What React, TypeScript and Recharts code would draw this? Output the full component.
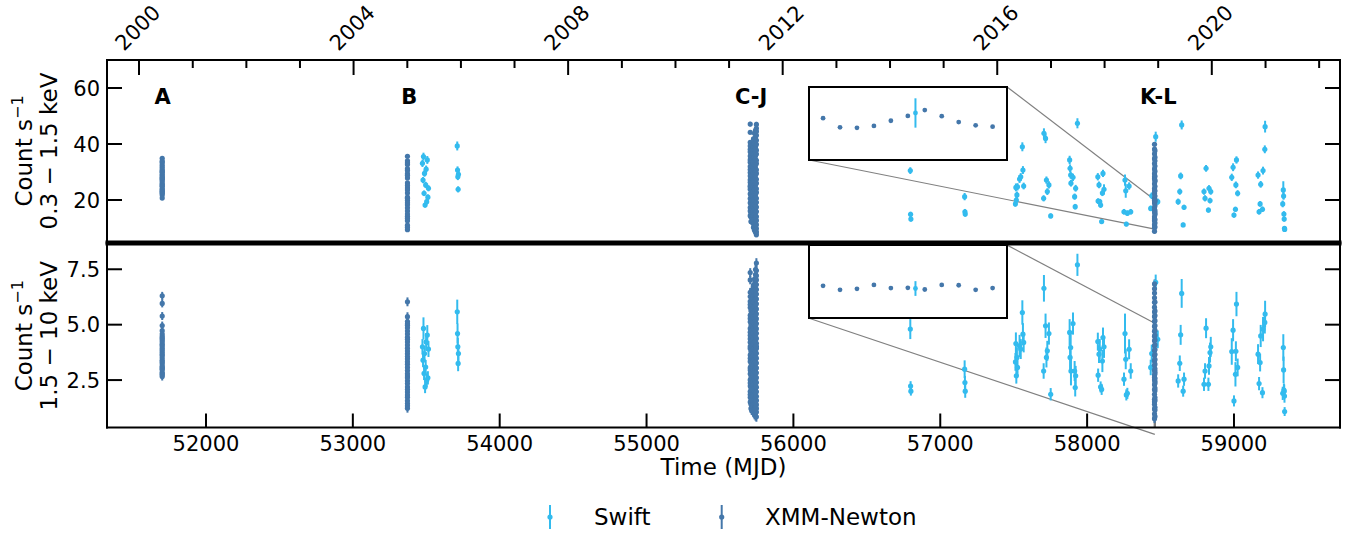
import React from 'react';
import {
  ScatterChart,
  Scatter,
  XAxis,
  YAxis,
  ErrorBar,
  ReferenceLine,
  ReferenceArea,
} from 'recharts';

const FONT = '"DejaVu Sans", Verdana, sans-serif';
const TICK_FS = 21;
const LABEL_FS = 23;
const SWIFT = '#33BBEE';
const XMM = '#4477AA';
const CONNECT = '#808080';

// ---- axes ----
const mjdDomain: [number, number] = [51326, 59722];
const mjdTicks = [52000, 53000, 54000, 55000, 56000, 57000, 58000, 59000];
const yearTicks = [2000, 2001, 2002, 2003, 2004, 2005, 2006, 2007, 2008, 2009, 2010, 2011, 2012, 2013, 2014, 2015, 2016, 2017, 2018, 2019, 2020, 2021, 2022];
const yearMJD = [51544, 51910, 52275, 52640, 53005, 53371, 53736, 54101, 54466, 54832, 55197, 55562, 55927, 56293, 56658, 57023, 57388, 57754, 58119, 58484, 58849, 59215, 59580];
const softDomain: [number, number] = [5, 70];
const softTicks = [20, 40, 60];
const hardDomain: [number, number] = [0.36, 8.64];
const hardTicks = [2.5, 5.0, 7.5];

// ---- epoch labels ----
const epochLabels = ['A', 'B', 'C-J', 'K-L'];
const epochMJD = [51705, 53384, 55712, 58485];
const epochRate = 57;

// ---- Swift (time, 0.3-1.5 keV, 1.5-10 keV) ----
const swiftTime = [
  53474, 53478, 53481, 53485, 53488, 53492, 53496, 53499, 53503, 53507, 53511, 53515,
  53711, 53713, 53715, 53717, 53719,
  56796, 56798, 56800,
  57166, 57168, 57170,
  57512, 57515, 57518, 57522, 57526, 57540, 57548, 57559, 57563, 57568,
  57704, 57706, 57717, 57723, 57729, 57740, 57752,
  57881, 57884, 57888, 57890, 57904, 57915, 57919, 57922, 57934,
  58073, 58075, 58081, 58086, 58092, 58099, 58104, 58108, 58115,
  58251, 58258, 58263, 58267, 58274, 58286, 58297,
  58433, 58440, 58467, 58481,
  58620, 58631, 58637, 58644, 58654, 58660,
  58796, 58803, 58810, 58826, 58830, 58837, 58842,
  58985, 58994, 59000, 59010, 59013, 59017, 59025,
  59164, 59171, 59178, 59182, 59194, 59198, 59210, 59212,
  59332, 59336, 59338, 59340, 59342, 59344, 59345,
];
const swiftSoft = [
  33.1, 27.1, 35.5, 22.4, 29.5, 18.2, 25.4, 31.0, 19.4, 34.3, 21.0, 24.2,
  39.3, 30.7, 28.3, 23.8, 29.2,
  30.5, 14.9, 13.2,
  21.2, 15.8, 15.0,
  18.6, 24.5, 20.0, 21.8, 24.7, 27.5, 28.3, 39.0, 30.7, 25.0,
  20.6, 43.8, 42.0, 27.1, 23.0, 25.4, 14.3,
  34.3, 31.3, 28.9, 26.0, 28.1, 21.2, 17.6, 24.2, 47.4,
  28.3, 19.6, 25.4, 19.4, 18.2, 12.3, 22.5, 29.5, 23.8,
  15.8, 27.1, 23.3, 11.4, 15.3, 25.0, 15.8,
  17.0, 21.5, 42.6, 19.4,
  19.4, 23.0, 28.6, 46.8, 11.1, 17.4,
  23.0, 20.6, 31.3, 16.4, 24.2, 19.8, 23.0,
  28.1, 31.7, 14.6, 16.7, 25.4, 34.3, 22.4,
  28.9, 15.8, 18.6, 25.6, 16.7, 30.5, 38.1, 46.2,
  18.6, 23.6, 21.4, 15.0, 13.2, 9.9, 9.5,
];
const swiftSoftErr = [
  1.3, 1.1, 1.4, 1.0, 1.2, 0.9, 1.1, 1.3, 1.0, 1.4, 1.0, 1.1,
  1.6, 1.3, 1.2, 1.1, 1.2,
  1.2, 0.9, 0.9,
  1.3, 1.0, 1.0,
  1.0, 1.4, 1.1, 1.2, 1.3, 1.4, 1.3, 1.6, 1.4, 1.2,
  1.1, 1.8, 1.7, 1.3, 1.2, 1.3, 0.9,
  1.5, 1.4, 1.3, 1.2, 1.3, 1.1, 1.0, 1.2, 1.8,
  1.3, 1.0, 1.2, 1.0, 1.0, 0.8, 1.1, 1.3, 1.8,
  1.0, 2.0, 2.5, 0.8, 1.0, 1.3, 1.0,
  1.0, 1.2, 1.8, 1.1,
  1.1, 1.1, 1.2, 1.6, 0.8, 0.9,
  1.1, 1.1, 1.2, 0.9, 1.1, 1.0, 1.1,
  1.3, 1.4, 0.9, 0.9, 1.2, 1.3, 1.1,
  1.3, 1.0, 1.0, 1.2, 1.0, 1.4, 1.4, 2.1,
  1.2, 3.1, 1.3, 1.0, 0.9, 0.8, 0.8,
];
const swiftHard = [
  4.00, 3.40, 4.83, 2.80, 3.70, 2.19, 3.09, 4.22, 2.49, 4.53, 2.60, 3.90,
  5.58, 4.60, 4.00, 3.25, 3.70,
  4.80, 2.23, 2.00,
  2.99, 2.39, 2.00,
  3.32, 4.15, 2.69, 3.52, 3.07, 4.04, 3.90, 5.55, 4.57, 4.20,
  2.91, 6.64, 4.95, 3.52, 3.82, 4.60, 1.86,
  4.65, 3.52, 3.97, 2.91, 5.05, 2.91, 2.16, 2.69, 7.70,
  4.24, 2.72, 3.67, 3.90, 2.19, 2.08, 3.36, 4.42, 4.00,
  2.54, 4.60, 3.44, 1.83, 1.90, 3.89, 2.91,
  3.07, 3.70, 6.91, 4.34,
  2.46, 3.26, 4.54, 6.41, 2.00, 2.54,
  2.31, 2.91, 4.84, 2.31, 3.14, 3.74, 4.00,
  3.79, 4.75, 1.56, 2.76, 3.80, 5.93, 3.07,
  3.67, 2.34, 3.29, 4.49, 1.93, 4.80, 5.10, 5.48,
  1.90, 3.97, 2.96, 2.05, 2.00, 1.78, 1.08,
];
const swiftHardErr = [
  0.35, 0.32, 0.50, 0.30, 0.34, 0.28, 0.32, 0.40, 0.30, 0.45, 0.30, 0.36,
  0.55, 0.45, 0.40, 0.35, 0.40,
  0.45, 0.22, 0.20,
  0.40, 0.30, 0.30,
  0.40, 0.50, 0.35, 0.45, 0.40, 0.50, 0.45, 0.55, 0.50, 0.45,
  0.35, 0.60, 0.55, 0.45, 0.45, 0.50, 0.28,
  0.60, 0.55, 0.60, 0.65, 0.50, 0.45, 0.40, 0.45, 0.50,
  0.40, 0.30, 0.40, 0.45, 0.25, 0.25, 0.50, 0.45, 0.50,
  0.30, 0.90, 0.45, 0.25, 0.25, 0.45, 0.35,
  0.35, 0.40, 0.35, 0.40,
  0.30, 0.35, 0.45, 0.65, 0.25, 0.30,
  0.30, 0.35, 0.45, 0.30, 0.40, 0.45, 0.45,
  0.60, 0.50, 0.25, 0.55, 0.45, 0.55, 0.40,
  0.45, 0.30, 0.40, 0.50, 0.25, 0.55, 0.50, 0.60,
  0.30, 0.60, 0.60, 0.30, 0.30, 0.30, 0.20,
];

// ---- XMM-Newton light curves, one column per observation (A, B, C..J, K, L) ----
const xmmTime = [51702, 53372, 55706, 55711, 55716, 55722, 55728, 55735, 55742, 55748, 58459, 58462];
const xmmSoftErr = [0.7, 0.6, 0.8, 0.8, 0.8, 0.8, 0.8, 0.8, 0.9, 0.9, 0.7, 0.7];
const xmmHardErr = [0.18, 0.2, 0.2, 0.2, 0.2, 0.2, 0.2, 0.2, 0.22, 0.22, 0.2, 0.2];

const xmmSoftA = [27.4, 29.1, 26.2, 24.8, 30.5, 31.9, 28.7, 25.6, 23.1, 21.8, 20.7, 22.4, 24.0, 26.9, 29.8, 32.6, 34.9, 33.5, 31.2, 28.0, 25.1, 23.7, 22.9, 27.9, 30.1, 33.9];
const xmmHardA = [3.62, 3.95, 4.31, 3.40, 3.08, 2.85, 2.66, 2.97, 3.25, 3.51, 3.78, 4.12, 4.47, 4.73, 4.96, 4.58, 4.22, 3.87, 3.33, 3.01, 2.78, 3.69, 4.05, 5.39, 5.96, 6.30, 3.14, 4.39, 2.74];
const xmmSoftB = [22.5, 18.3, 14.2, 11.0, 9.4, 12.6, 16.1, 19.8, 24.3, 27.9, 31.2, 34.0, 35.6, 32.7, 29.4, 26.1, 21.0, 17.2, 13.5, 10.3, 15.0, 20.6, 25.2, 28.8, 33.3, 30.5, 23.6, 19.0];
const xmmHardB = [3.21, 2.68, 2.19, 1.72, 1.23, 1.44, 1.96, 2.47, 2.93, 3.46, 3.94, 4.43, 4.97, 5.36, 5.14, 4.71, 4.22, 3.69, 2.34, 1.57, 1.83, 2.61, 3.07, 3.56, 4.08, 4.58, 5.04, 6.03, 1.34, 2.07, 2.79, 3.33, 3.81, 4.34, 4.86];
const xmmSoftC = [26.3, 29.8, 33.5, 37.2, 40.6, 38.1, 34.4, 30.9, 27.2, 23.8, 20.5, 17.3, 14.4, 16.1, 19.0, 22.2, 25.1, 28.6, 32.0, 35.7, 39.3, 44.2, 47.1, 24.6];
const xmmHardC = [4.21, 4.83, 5.42, 6.05, 6.46, 5.77, 5.13, 4.52, 3.92, 3.34, 2.78, 2.23, 1.72, 1.51, 1.98, 2.51, 3.06, 3.63, 4.02, 4.66, 5.28, 5.91, 6.27, 7.02, 7.35, 3.48, 2.95, 2.37, 1.85, 4.37];
const xmmSoftD = [21.4, 18.2, 15.1, 12.3, 13.9, 17.0, 20.2, 23.6, 26.9, 30.1, 33.4, 36.2, 37.9, 34.8, 31.6, 28.4, 25.3, 22.0, 19.3, 16.4, 24.7, 29.2];
const xmmHardD = [3.55, 3.02, 2.51, 2.03, 1.58, 1.22, 1.41, 1.87, 2.36, 2.82, 3.31, 3.79, 4.26, 4.74, 5.21, 5.63, 5.98, 5.46, 4.98, 4.49, 4.03, 3.66, 3.14, 2.64, 2.15, 1.71, 2.95, 4.37];
const xmmSoftE = [25.7, 22.8, 19.6, 16.6, 13.7, 12.1, 14.8, 18.1, 21.2, 24.4, 27.8, 31.0, 34.3, 37.5, 39.8, 36.6, 33.1, 29.7, 26.5, 23.3, 20.0, 17.6, 30.4, 35.9];
const xmmHardE = [3.12, 2.64, 2.18, 1.74, 1.33, 1.12, 1.52, 1.95, 2.41, 2.86, 3.33, 3.78, 4.24, 4.69, 5.16, 5.61, 6.08, 6.55, 6.27, 5.84, 5.37, 4.92, 4.46, 4.01, 3.55, 3.01, 2.52, 2.03, 1.64, 3.88];
const xmmSoftF = [31.7, 28.5, 25.0, 21.9, 18.8, 15.6, 17.4, 20.7, 24.1, 27.3, 30.6, 33.9, 36.8, 39.7, 38.2, 35.1, 32.3, 29.0, 26.2, 23.0, 19.9, 16.8];
const xmmHardF = [2.42, 2.91, 3.43, 3.97, 4.48, 5.02, 5.51, 6.04, 6.19, 5.74, 5.27, 4.79, 4.31, 3.82, 3.28, 2.77, 2.26, 1.79, 1.41, 1.63, 2.09, 2.58, 3.09, 3.58, 4.11, 4.62, 5.13, 3.71];
const xmmSoftG = [20.9, 17.6, 14.4, 11.5, 10.2, 12.9, 16.0, 19.4, 22.8, 26.2, 29.6, 32.9, 36.3, 39.4, 41.8, 38.7, 35.0, 31.5, 28.1, 24.6, 21.7, 18.5, 15.2, 27.3, 33.7];
const xmmHardG = [3.63, 3.15, 2.67, 2.21, 1.76, 1.31, 1.02, 1.47, 1.92, 2.43, 2.92, 3.41, 3.89, 4.38, 4.86, 5.34, 5.82, 6.31, 6.78, 6.52, 6.03, 5.57, 5.08, 4.62, 4.13, 3.38, 2.79, 2.31, 1.85, 1.39];
const xmmSoftH = [18.6, 14.9, 11.8, 9.2, 10.7, 13.4, 16.8, 20.3, 23.9, 27.5, 31.1, 34.7, 38.0, 41.2, 43.8, 40.1, 36.3, 32.6, 29.2, 25.6, 22.1, 19.7, 26.7, 35.4];
const xmmHardH = [3.87, 3.28, 2.71, 2.16, 1.62, 1.18, 0.93, 1.36, 1.84, 2.35, 2.88, 3.42, 3.96, 4.51, 5.03, 5.55, 6.07, 6.58, 7.06, 6.81, 6.33, 5.81, 5.29, 4.77, 4.24, 3.69, 3.12, 2.54, 1.97, 1.45, 4.12, 2.62];
const xmmSoftI = [16.9, 13.6, 10.8, 8.5, 9.9, 12.2, 15.3, 18.7, 22.0, 25.5, 28.9, 32.4, 35.9, 39.2, 42.5, 44.9, 41.7, 38.3, 34.6, 31.2, 27.8, 24.3, 20.9, 17.8, 30.0, 37.1];
const xmmHardI = [2.97, 2.49, 2.04, 1.59, 1.17, 0.89, 1.28, 1.71, 2.16, 2.62, 3.09, 3.56, 4.03, 4.49, 4.96, 5.43, 5.89, 6.36, 6.82, 7.26, 7.49, 7.03, 6.58, 6.12, 5.66, 5.19, 4.72, 4.26, 3.79, 3.33, 2.86, 2.39, 1.93, 1.47, 1.05];
const xmmSoftJ = [7.6, 9.8, 12.7, 15.9, 19.2, 22.7, 26.0, 29.5, 33.0, 36.4, 39.9, 43.1, 45.6, 47.0, 44.5, 41.3, 37.8, 34.2, 30.8, 27.4, 24.0, 20.6, 17.5, 14.1, 11.2, 8.6];
const xmmHardJ = [0.84, 1.06, 1.39, 1.77, 2.18, 2.61, 3.05, 3.49, 3.93, 4.38, 4.82, 5.27, 5.71, 6.16, 6.59, 7.02, 7.44, 7.78, 7.21, 6.81, 6.38, 5.94, 5.49, 5.05, 4.61, 4.16, 3.71, 3.27, 2.83, 2.39, 1.97, 1.58, 1.22, 4.02];
const xmmSoftK = [24.1, 20.6, 17.3, 14.0, 11.2, 8.8, 10.1, 12.6, 15.7, 18.9, 22.3, 25.8, 29.4, 33.0, 36.5, 39.9, 38.2, 34.7, 31.1, 27.6, 23.2, 19.8, 16.5, 13.3, 28.3];
const xmmHardK = [3.36, 2.94, 2.51, 2.07, 1.63, 1.19, 0.76, 0.98, 1.41, 1.86, 2.29, 2.73, 3.17, 3.61, 4.05, 4.48, 4.92, 5.36, 5.79, 6.21, 6.62, 6.84, 6.43, 6.01, 5.57, 5.14, 4.70, 4.27, 3.83, 3.39, 2.62, 1.52];
const xmmSoftL = [19.5, 16.2, 13.0, 10.4, 11.8, 14.8, 18.0, 21.4, 24.9, 28.5, 32.1, 35.3, 37.6, 34.0, 30.3, 26.7, 23.3, 20.0, 15.4, 27.1];
const xmmHardL = [2.88, 2.45, 2.02, 1.58, 1.15, 0.86, 1.27, 1.71, 2.14, 2.58, 3.01, 3.44, 3.88, 4.31, 4.75, 5.18, 5.62, 6.02, 5.41, 4.96, 4.53, 4.09, 3.66, 3.22, 2.79, 2.36];

const xmmSoftCols = [xmmSoftA, xmmSoftB, xmmSoftC, xmmSoftD, xmmSoftE, xmmSoftF, xmmSoftG, xmmSoftH, xmmSoftI, xmmSoftJ, xmmSoftK, xmmSoftL];
const xmmHardCols = [xmmHardA, xmmHardB, xmmHardC, xmmHardD, xmmHardE, xmmHardF, xmmHardG, xmmHardH, xmmHardI, xmmHardJ, xmmHardK, xmmHardL];

// ---- insets: zoom on a short stretch of the K-L observation ----
const insetXmmT = [0, 1, 2, 3, 4, 5, 6, 7, 8, 9, 10];
const insetXmmSoft = [15.58, 14.24, 14.16, 14.44, 15.2, 15.91, 16.77, 15.87, 15.01, 14.53, 14.34];
const insetXmmHard = [2.25, 1.97, 2.04, 2.31, 2.09, 2.11, 1.99, 2.31, 2.29, 1.97, 2.09];
const insetSwiftT = [5.45];
const insetSwiftSoft = [16.34];
const insetSwiftSoftErr = [2.15];
const insetSwiftHard = [2.06];
const insetSwiftHardErr = [0.52];
const insetTDomain: [number, number] = [-0.77, 10.79];
const insetSoftDomain: [number, number] = [9.6, 20];
const insetHardDomain: [number, number] = [0.05, 5.06];

// inset frame corners and zoomed region, in main-axis data units
const zoomMJD = 58461;
const insetMJD = [56107, 57455];
const insetSoftY = [34.29, 60.36];
const insetHardY = [5.29, 8.59];

type Pt = { x: number; y: number; err: number; label?: string };

const swiftSoftPts: Pt[] = swiftTime.map((t, i) => ({ x: t, y: swiftSoft[i], err: swiftSoftErr[i] }));
const swiftHardPts: Pt[] = swiftTime.map((t, i) => ({ x: t, y: swiftHard[i], err: swiftHardErr[i] }));
const xmmSoftPts: Pt[] = xmmSoftCols.flatMap((col, i) => col.map((v) => ({ x: xmmTime[i], y: v, err: xmmSoftErr[i] })));
const xmmHardPts: Pt[] = xmmHardCols.flatMap((col, i) => col.map((v) => ({ x: xmmTime[i], y: v, err: xmmHardErr[i] })));
const epochPts: Pt[] = epochLabels.map((l, i) => ({ x: epochMJD[i], y: epochRate, err: 0, label: l }));

const insetXmmSoftPts = insetXmmT.map((t, i) => ({ x: t, y: insetXmmSoft[i] }));
const insetXmmHardPts = insetXmmT.map((t, i) => ({ x: t, y: insetXmmHard[i] }));
const insetSwiftSoftPts = insetSwiftT.map((t, i) => ({ x: t, y: insetSwiftSoft[i], err: insetSwiftSoftErr[i] }));
const insetSwiftHardPts = insetSwiftT.map((t, i) => ({ x: t, y: insetSwiftHard[i], err: insetSwiftHardErr[i] }));

// ---- tick renderers (ticks point inwards, like matplotlib direction='in') ----
const LeftTick = (p: any) => (
  <g>
    <line x1={p.x} x2={p.x + 15} y1={p.y} y2={p.y} stroke="#000" strokeWidth={2} />
    <text x={p.x - 7} y={p.y} dy="0.36em" textAnchor="end" fontSize={TICK_FS} fontFamily={FONT} fill="#000">
      {Number(p.payload.value).toFixed(p.digits)}
    </text>
  </g>
);

const RightTick = (p: any) => (
  <line x1={p.x} x2={p.x - 15} y1={p.y} y2={p.y} stroke="#000" strokeWidth={2} />
);

const YearTick = (p: any) => {
  const year = yearTicks[yearMJD.indexOf(p.payload.value)];
  const major = year % 4 === 0;
  const cx = p.x - 1.5;
  const cy = p.y - 32.5;
  return (
    <g>
      <line x1={p.x} x2={p.x} y1={p.y} y2={p.y + (major ? 15 : 8)} stroke="#000" strokeWidth={2} />
      {major && (
        <text x={cx} y={cy} dy="0.36em" textAnchor="middle" transform={`rotate(-45 ${cx} ${cy})`} fontSize={TICK_FS} fontFamily={FONT} fill="#000">
          {year}
        </text>
      )}
    </g>
  );
};

const MjdTick = (p: any) => (
  <g>
    <line x1={p.x} x2={p.x} y1={p.y} y2={p.y - 14} stroke="#000" strokeWidth={2} />
    <text x={p.x} y={p.y + 23.5} textAnchor="middle" fontSize={TICK_FS} fontFamily={FONT} fill="#000">
      {p.payload.value}
    </text>
  </g>
);

const YTitle = (band: string) => (p: any) => {
  const vb = p.viewBox ?? { x: 0, y: 0, width: 0, height: 0 };
  const cy = vb.y + vb.height / 2;
  return (
    <g fontFamily={FONT} fontSize={LABEL_FS} fill="#000">
      <text x={32} y={cy} textAnchor="middle" transform={`rotate(-90 32 ${cy})`}>
        Count s<tspan dy={-9} fontSize={16}>−1</tspan>
      </text>
      <text x={57} y={cy} textAnchor="middle" transform={`rotate(-90 57 ${cy})`}>
        {band}
      </text>
    </g>
  );
};

const XTitle = (p: any) => {
  const vb = p.viewBox ?? { x: 0, y: 0, width: 0, height: 0 };
  return (
    <text x={vb.x + vb.width / 2} y={vb.y + 47.5} textAnchor="middle" fontFamily={FONT} fontSize={LABEL_FS} fill="#000">
      Time (MJD)
    </text>
  );
};

const dot = (color: string, r: number) => (p: any) => <circle cx={p.cx} cy={p.cy} r={r} fill={color} />;

const EpochText = (p: any) => (
  <text x={p.cx} y={p.cy} dy="0.36em" textAnchor="middle" fontFamily={FONT} fontWeight="bold" fontSize={TICK_FS} fill="#000">
    {p.payload.label}
  </text>
);

const spine = { stroke: '#000', strokeWidth: 2, strokeLinecap: 'square' as const };

function Inset({ xmm, swift, domain, top }: { xmm: any[]; swift: any[]; domain: [number, number]; top: number }) {
  return (
    <div
      style={{
        position: 'absolute',
        left: 808,
        top,
        width: 200,
        height: 75,
        border: '2px solid #000',
        boxSizing: 'border-box',
        background: '#fff',
      }}
    >
      <ScatterChart width={196} height={71} margin={{ top: 0, right: 0, bottom: 0, left: 0 }}>
        <XAxis dataKey="x" type="number" domain={insetTDomain} allowDataOverflow hide />
        <YAxis dataKey="y" type="number" domain={domain} allowDataOverflow hide />
        <Scatter data={xmm} shape={dot(XMM, 2.4)} isAnimationActive={false} />
        <Scatter data={swift} shape={dot(SWIFT, 2.4)} isAnimationActive={false}>
          <ErrorBar dataKey="err" direction="y" width={0} stroke={SWIFT} strokeWidth={2} />
        </Scatter>
      </ScatterChart>
    </div>
  );
}

export default function App() {
  return (
    <div style={{ position: 'absolute', left: 0, top: 0, width: 1355, height: 534, background: '#fff', overflow: 'hidden' }}>
      {/* upper panel: 0.3-1.5 keV */}
      <div style={{ position: 'absolute', left: 0, top: 0 }}>
        <ScatterChart width={1355} height={245} margin={{ top: 0, right: 0, bottom: 3, left: 0 }}>
          <XAxis
            xAxisId="yr"
            orientation="top"
            dataKey="x"
            type="number"
            domain={mjdDomain}
            allowDataOverflow
            ticks={yearMJD}
            interval={0}
            height={60}
            tickSize={0}
            tickMargin={0}
            tickLine={false}
            axisLine={spine}
            tick={YearTick}
          />
          <YAxis
            yAxisId="l"
            dataKey="y"
            type="number"
            domain={softDomain}
            allowDataOverflow
            ticks={softTicks}
            interval={0}
            width={107}
            tickSize={0}
            tickMargin={0}
            tickLine={false}
            axisLine={spine}
            tick={(p: any) => <LeftTick {...p} digits={0} />}
            label={YTitle('0.3 − 1.5 keV')}
          />
          <YAxis
            yAxisId="r"
            orientation="right"
            type="number"
            domain={softDomain}
            allowDataOverflow
            ticks={softTicks}
            interval={0}
            width={15}
            tickSize={0}
            tickMargin={0}
            tickLine={false}
            axisLine={spine}
            tick={RightTick}
          />
          <ReferenceArea xAxisId="yr" yAxisId="l" x1={zoomMJD - 4} x2={zoomMJD + 4} y1={insetSoftDomain[0]} y2={insetSoftDomain[1]} fill="none" stroke={CONNECT} strokeWidth={1.2} ifOverflow="hidden" />
          <ReferenceLine xAxisId="yr" yAxisId="l" segment={[{ x: insetMJD[1], y: insetSoftY[1] }, { x: zoomMJD, y: insetSoftDomain[1] }]} stroke={CONNECT} strokeWidth={1.2} ifOverflow="visible" />
          <ReferenceLine xAxisId="yr" yAxisId="l" segment={[{ x: insetMJD[0], y: insetSoftY[0] }, { x: zoomMJD, y: insetSoftDomain[0] }]} stroke={CONNECT} strokeWidth={1.2} ifOverflow="visible" />
          <Scatter xAxisId="yr" yAxisId="l" name="Swift" data={swiftSoftPts} shape={dot(SWIFT, 2.6)} isAnimationActive={false}>
            <ErrorBar dataKey="err" direction="y" width={0} stroke={SWIFT} strokeWidth={2} />
          </Scatter>
          <Scatter xAxisId="yr" yAxisId="l" name="XMM-Newton" data={xmmSoftPts} shape={dot(XMM, 2.6)} isAnimationActive={false}>
            <ErrorBar dataKey="err" direction="y" width={0} stroke={XMM} strokeWidth={2} />
          </Scatter>
          <Scatter xAxisId="yr" yAxisId="l" data={epochPts} shape={EpochText} isAnimationActive={false} />
          {/* bottom spine of the upper panel, thickened so it merges with the lower panel's top spine */}
          <ReferenceLine xAxisId="yr" yAxisId="l" y={softDomain[0]} stroke="#000" strokeWidth={3} strokeLinecap="square" ifOverflow="visible" />
        </ScatterChart>
      </div>

      {/* lower panel: 1.5-10 keV */}
      <div style={{ position: 'absolute', left: 0, top: 0 }}>
        <ScatterChart width={1355} height={534} margin={{ top: 244, right: 0, bottom: 46.5, left: 0 }}>
          <XAxis
            xAxisId="mjd"
            orientation="bottom"
            dataKey="x"
            type="number"
            domain={mjdDomain}
            allowDataOverflow
            ticks={mjdTicks}
            interval={0}
            height={60}
            tickSize={0}
            tickMargin={0}
            tickLine={false}
            axisLine={spine}
            tick={MjdTick}
            label={XTitle}
          />
          <YAxis
            yAxisId="l"
            dataKey="y"
            type="number"
            domain={hardDomain}
            allowDataOverflow
            ticks={hardTicks}
            interval={0}
            width={107}
            tickSize={0}
            tickMargin={0}
            tickLine={false}
            axisLine={spine}
            tick={(p: any) => <LeftTick {...p} digits={1} />}
            label={YTitle('1.5 − 10 keV')}
          />
          <YAxis
            yAxisId="r"
            orientation="right"
            type="number"
            domain={hardDomain}
            allowDataOverflow
            ticks={hardTicks}
            interval={0}
            width={15}
            tickSize={0}
            tickMargin={0}
            tickLine={false}
            axisLine={spine}
            tick={RightTick}
          />
          <ReferenceArea xAxisId="mjd" yAxisId="l" x1={zoomMJD - 4} x2={zoomMJD + 4} y1={insetHardDomain[0]} y2={insetHardDomain[1]} fill="none" stroke={CONNECT} strokeWidth={1.2} ifOverflow="hidden" />
          <ReferenceLine xAxisId="mjd" yAxisId="l" segment={[{ x: insetMJD[1], y: insetHardY[1] }, { x: zoomMJD, y: insetHardDomain[1] }]} stroke={CONNECT} strokeWidth={1.2} ifOverflow="visible" />
          <ReferenceLine xAxisId="mjd" yAxisId="l" segment={[{ x: insetMJD[0], y: insetHardY[0] }, { x: zoomMJD, y: insetHardDomain[0] }]} stroke={CONNECT} strokeWidth={1.2} ifOverflow="visible" />
          <Scatter xAxisId="mjd" yAxisId="l" name="Swift" data={swiftHardPts} shape={dot(SWIFT, 2.6)} isAnimationActive={false}>
            <ErrorBar dataKey="err" direction="y" width={0} stroke={SWIFT} strokeWidth={2} />
          </Scatter>
          <Scatter xAxisId="mjd" yAxisId="l" name="XMM-Newton" data={xmmHardPts} shape={dot(XMM, 2.6)} isAnimationActive={false}>
            <ErrorBar dataKey="err" direction="y" width={0} stroke={XMM} strokeWidth={2} />
          </Scatter>
          {/* top spine of the lower panel */}
          <ReferenceLine xAxisId="mjd" yAxisId="l" y={hardDomain[1]} stroke="#000" strokeWidth={3} strokeLinecap="square" ifOverflow="visible" />
        </ScatterChart>
      </div>

      <Inset xmm={insetXmmSoftPts} swift={insetSwiftSoftPts} domain={insetSoftDomain} top={86} />
      <Inset xmm={insetXmmHardPts} swift={insetSwiftHardPts} domain={insetHardDomain} top={244} />

      {/* legend */}
      <svg style={{ position: 'absolute', left: 0, top: 495 }} width={1355} height={39}>
        <g fontFamily={FONT} fontSize={LABEL_FS} fill="#000">
          <line x1={550} x2={550} y1={10} y2={34} stroke={SWIFT} strokeWidth={2} />
          <circle cx={550} cy={22} r={2.6} fill={SWIFT} />
          <text x={594} y={30}>Swift</text>
          <line x1={721.7} x2={721.7} y1={10} y2={34} stroke={XMM} strokeWidth={2} />
          <circle cx={721.7} cy={22} r={2.6} fill={XMM} />
          <text x={765} y={30}>XMM-Newton</text>
        </g>
      </svg>
    </div>
  );
}
